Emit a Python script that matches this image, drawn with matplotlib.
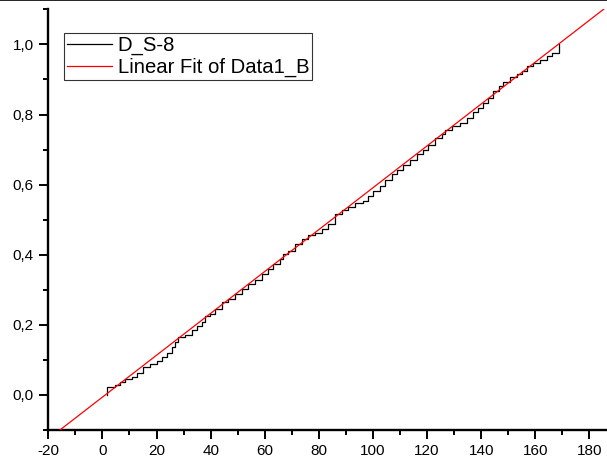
import matplotlib
matplotlib.use("Agg")
import matplotlib.pyplot as plt
from matplotlib.ticker import MultipleLocator, FuncFormatter
from matplotlib.lines import Line2D
import numpy as np

plt.rcParams['font.family'] = ['Liberation Sans', 'DejaVu Sans']

# Cumulative step curve: x position of each step and the level after it
step_x = [1.8, 1.8, 4.7, 6.5, 8.3, 11.0, 12.7, 15.1, 17.6, 20.1, 21.9, 23.8, 25.6,
          26.8, 28.1, 30.5, 33.0, 34.9, 36.7, 37.9, 39.8, 41.6, 44.1, 46.5, 49.0,
          51.5, 53.9, 56.4, 58.9, 61.3, 63.2, 65.7, 66.9, 68.7, 71.2, 73.7, 76.1,
          78.6, 81.1, 83.5, 86.0, 88.5, 90.9, 93.4, 96.5, 98.3, 100.1, 102.6,
          104.5, 106.9, 108.8, 111.2, 113.7, 116.2, 118.6, 120.5, 123.0, 125.4,
          126.7, 129.1, 132.2, 134.7, 137.1, 139.0, 140.8, 142.7, 144.5, 146.4,
          148.2, 150.7, 153.2, 155.0, 156.9, 159.3, 161.8, 164.3, 166.1, 168.9]
step_y = [0.000, 0.022, 0.028, 0.036, 0.046, 0.050, 0.063, 0.079, 0.088, 0.098, 0.107,
          0.119, 0.136, 0.152, 0.164, 0.171, 0.186, 0.197, 0.209, 0.226, 0.230,
          0.245, 0.264, 0.273, 0.287, 0.302, 0.316, 0.328, 0.344, 0.360, 0.373,
          0.387, 0.401, 0.411, 0.430, 0.444, 0.455, 0.463, 0.472, 0.489, 0.515,
          0.527, 0.537, 0.548, 0.553, 0.567, 0.581, 0.595, 0.614, 0.631, 0.643,
          0.657, 0.671, 0.686, 0.698, 0.714, 0.733, 0.745, 0.757, 0.768, 0.776,
          0.790, 0.806, 0.818, 0.833, 0.847, 0.866, 0.880, 0.894, 0.908, 0.916,
          0.923, 0.937, 0.946, 0.956, 0.967, 0.975, 1.000]

# Linear fit parameters
fit_intercept = -0.0062
fit_slope = 0.005973

x_min, x_max = -20, 186.5
y_min, y_max = -0.1, 1.1
x_ticks = [-20, 0, 20, 40, 60, 80, 100, 120, 140, 160, 180]
y_ticks = [0.0, 0.2, 0.4, 0.6, 0.8, 1.0]

fig = plt.figure(figsize=(6.07, 4.68), dpi=100)
ax = fig.add_axes([48.3 / 607, 38 / 468, 558.7 / 607, 420.65 / 468])

ax.step(step_x, step_y, where='post', color='black', lw=0.9, label='D_S-8', zorder=2)
fx = np.array([x_min, x_max])
ax.plot(fx, fit_intercept + fit_slope * fx, color='red', lw=0.9,
        label='Linear Fit of Data1_B', zorder=3)

ax.set_xlim(x_min, x_max)
ax.set_ylim(y_min, y_max)
ax.set_xticks(x_ticks)
ax.set_yticks(y_ticks)
ax.xaxis.set_minor_locator(MultipleLocator(10))
ax.yaxis.set_minor_locator(MultipleLocator(0.1))
ax.yaxis.set_major_formatter(FuncFormatter(lambda v, p: f"{v:.1f}".replace('.', ',')))
ax.xaxis.set_major_formatter(FuncFormatter(lambda v, p: f"{v:.0f}"))

for side in ('top', 'right'):
    ax.spines[side].set_visible(False)
for side in ('left', 'bottom'):
    ax.spines[side].set_linewidth(1.7)

ax.tick_params(which='major', direction='out', length=6.3, width=1.4,
               labelsize=11, pad=4)
ax.tick_params(which='minor', direction='out', length=3.8, width=1.4)

handles = [Line2D([], [], color='black', lw=0.9), Line2D([], [], color='red', lw=0.9)]
leg = ax.legend(handles, ['D_S-8', 'Linear Fit of Data1_B'],
                loc='upper left', bbox_to_anchor=(64 / 607, 1 - 33 / 468),
                bbox_transform=fig.transFigure, fontsize=14.6, frameon=True,
                fancybox=False, shadow=False, borderpad=0.15, labelspacing=0.12,
                handlelength=2.2, handletextpad=0.3, borderaxespad=0)
leg.get_frame().set_edgecolor('black')
leg.get_frame().set_linewidth(0.8)

# thin rule along the top edge of the figure
fig.add_artist(Line2D([0, 1], [0.999, 0.999], transform=fig.transFigure,
                      color='black', lw=1.2))

fig.savefig('out.png', dpi=100)
